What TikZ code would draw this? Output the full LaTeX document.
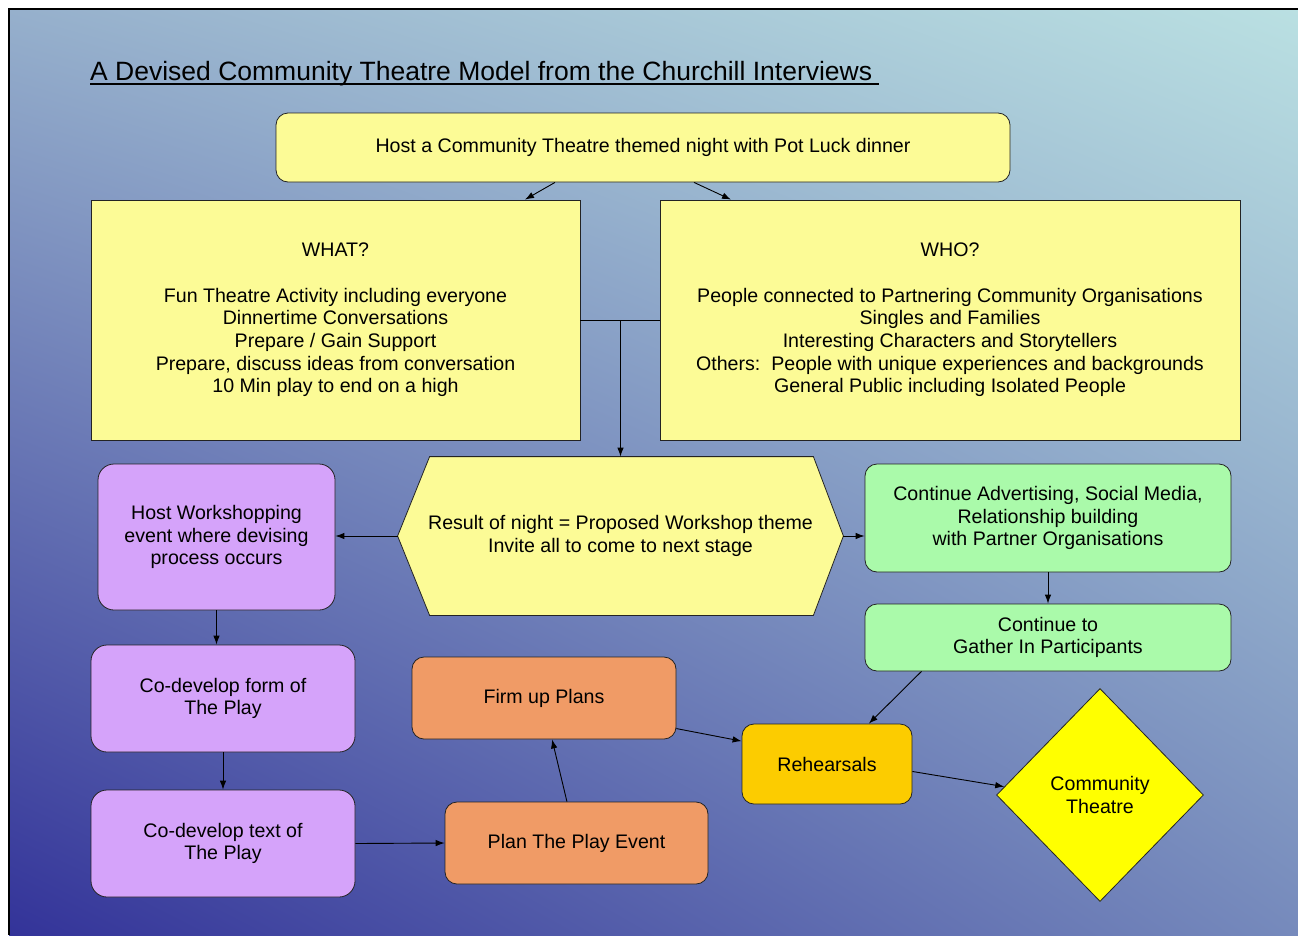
\documentclass[tikz,border=0pt]{standalone}
\usepackage{fontspec}
\setmainfont{Liberation Sans}
\usetikzlibrary{arrows.meta,shapes.geometric,calc,shadings}
\pgfdeclarelayer{bg}
\pgfsetlayers{bg,main}

\definecolor{paleyellow}{RGB}{252,251,150}
\definecolor{lilac}{RGB}{213,163,250}
\definecolor{peach}{RGB}{240,155,102}
\definecolor{amber}{RGB}{252,204,0}
\definecolor{brightyellow}{RGB}{255,255,0}
\definecolor{mint}{RGB}{170,250,170}
\definecolor{deepblue}{RGB}{51,51,153}
\definecolor{paleaqua}{RGB}{186,224,226}
\definecolor{midleft}{RGB}{150,176,204}
\definecolor{midright}{RGB}{118,138,188}
\definecolor{edge}{RGB}{35,35,35}

\tikzset{
  box/.style={draw=edge, line width=0.8pt, align=center, inner sep=0pt,
    font=\fontsize{19.6}{22.7}\selectfont},
  ybox/.style={box, fill=paleyellow},
  pbox/.style={box, fill=lilac, rounded corners=16pt},
  obox/.style={box, fill=peach, rounded corners=12pt},
  gbox/.style={box, fill=mint, rounded corners=12pt},
  abox/.style={box, fill=amber, rounded corners=12pt},
  link/.style={-{Latex[length=9pt,width=6.5pt]}, line width=0.9pt, draw=black},
  plain/.style={line width=0.9pt, draw=black},
}

\begin{document}
\begin{tikzpicture}[x=1pt,y=-1pt]
\useasboundingbox (0,0) rectangle (1298,935);

% backdrop: white page, gradient panel with a dark top and left rule
\begin{pgfonlayer}{bg}
  \fill[white] (0,0) rectangle (1298,935);
  \shade[lower left=deepblue, upper right=paleaqua,
         upper left=midleft, lower right=midright] (9,9) rectangle (1298,935);
  \draw[line width=2pt, black] (9,935) -- (9,9) -- (1298,9);
\end{pgfonlayer}

% heading
\node[anchor=base west, inner sep=0pt, font=\fontsize{26.5}{30}\selectfont] (title) at (90,80)
  {A Devised Community Theatre Model from the Churchill Interviews};
\draw[line width=1.4pt] ($(title.base west)+(0,4)$) -- ($(title.base east)+(7,4)$);

% opening event
\node[ybox, rounded corners=12pt, minimum width=734pt, minimum height=69pt] (host) at (643,147.5)
  {Host a Community Theatre themed night with Pot Luck dinner};

\node[ybox, minimum width=489pt, minimum height=240pt] (what) at (335.5,320)
  {WHAT?\\[22.5pt]
   Fun Theatre Activity including everyone\\
   Dinnertime Conversations\\
   Prepare / Gain Support\\
   Prepare, discuss ideas from conversation\\
   10 Min play to end on a high};

\node[ybox, minimum width=580pt, minimum height=240pt] (who) at (950,320)
  {WHO?\\[22.5pt]
   People connected to Partnering Community Organisations\\
   Singles and Families\\
   Interesting Characters and Storytellers\\
   Others:\ \ People with unique experiences and backgrounds\\
   General Public including Isolated People};

% result of the night (hexagon outline drawn behind the text node)
\node[box, draw=none, minimum width=445pt, minimum height=158pt] (hex) at (620.5,536)
  {Result of night = Proposed Workshop theme\\
   Invite all to come to next stage};
\begin{pgfonlayer}{bg}
  \filldraw[fill=paleyellow, draw=edge, line width=0.8pt]
    ($(hex.north west)+(32,0)$) -- ($(hex.north east)+(-30,0)$) -- (hex.east)
    -- ($(hex.south east)+(-30,0)$) -- ($(hex.south west)+(32,0)$) -- (hex.west) -- cycle;
\end{pgfonlayer}

% workshop stream
\node[pbox, minimum width=237pt, minimum height=146pt] (work) at (216.5,537)
  {Host Workshopping\\event where devising\\process occurs};
\node[pbox, minimum width=264pt, minimum height=107pt] (form) at (223,698.5)
  {Co-develop form of\\The Play};
\node[pbox, minimum width=264pt, minimum height=107pt] (text) at (223,843.5)
  {Co-develop text of\\The Play};

% planning
\node[obox, minimum width=263pt, minimum height=82pt] (plan) at (576.5,843)
  {Plan The Play Event};
\node[obox, minimum width=264pt, minimum height=82pt] (firm) at (544,698)
  {Firm up Plans};

% outreach
\node[gbox, minimum width=366pt, minimum height=108pt] (adv) at (1048,518)
  {Continue Advertising, Social Media,\\Relationship building\\with Partner Organisations};
\node[gbox, minimum width=366pt, minimum height=67pt] (gather) at (1048,637.5)
  {Continue to\\Gather In Participants};

% rehearsals and outcome
\node[abox, minimum width=170pt, minimum height=80pt] (reh) at (827,764)
  {Rehearsals};
\node[box, diamond, fill=brightyellow, minimum width=207pt, minimum height=213pt] (stage) at (1100,795)
  {Community\\Theatre};

% connectors
\draw[link] ($(host.south)+(-88,0)$) -- ($(what.north)+(189.5,0)$);
\draw[link] ($(host.south)+(51,0)$) -- ($(who.north)+(-219,0)$);
\draw[plain] (what.east) -- (who.west);
\draw[link] (hex.north |- what.east) -- (hex.north);
\draw[link] (hex.west) -- (hex.west -| work.east);
\draw[link] (hex.east) -- (hex.east -| adv.west);
\draw[link] (work.south) -- (work.south |- form.north);
\draw[link] (form.south) -- (text.north);
\draw[link] (text.east) -- (plan.west);
\draw[link] (plan.103) -- (firm.-79);
\draw[link] (firm.-13) -- (reh.165);
\draw[link] (adv.south) -- (gather.north);
\draw[link] (gather.195) -- (reh.44);
\draw[link] (reh.-5) -- (stage.175);

\end{tikzpicture}
\end{document}
